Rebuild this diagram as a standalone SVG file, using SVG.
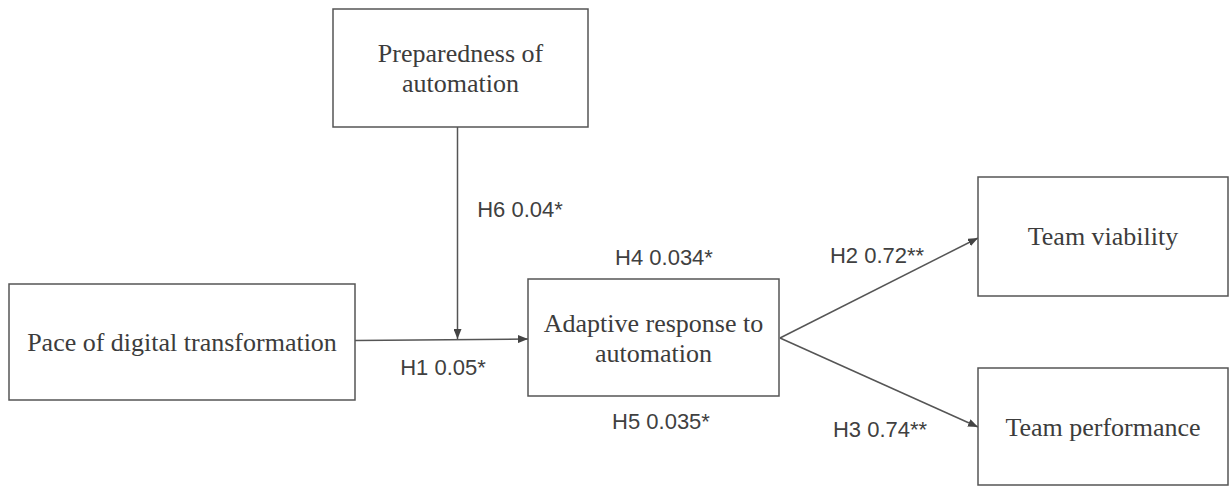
<svg xmlns="http://www.w3.org/2000/svg" width="1230" height="486" viewBox="0 0 1230 486">
  <defs>
    <marker id="arrow" viewBox="0 0 10 8" refX="10" refY="4" markerWidth="10" markerHeight="8" markerUnits="userSpaceOnUse" orient="auto">
      <path d="M0,0 L10,4 L0,8 Z" fill="#444"/>
    </marker>
  </defs>
  <style>
    .box { fill: #ffffff; stroke: #555555; stroke-width: 1.5; }
    .label { font-family: "Liberation Serif", "Times New Roman", serif; font-size: 26px; fill: #3c3c3c; text-anchor: middle; }
    .edge { stroke: #555555; stroke-width: 1.5; fill: none; marker-end: url(#arrow); }
    .coef { font-family: "Liberation Sans", Arial, sans-serif; font-size: 22px; fill: #404040; text-anchor: middle; }
  </style>
  <rect width="1230" height="486" fill="#ffffff"/>

  <g id="connectors">
    <line class="edge" x1="457.5" y1="127" x2="457.5" y2="339"/>
    <line class="edge" x1="355" y1="340.5" x2="528" y2="339"/>
    <line class="edge" x1="780" y1="338" x2="978" y2="238"/>
    <line class="edge" x1="780" y1="338" x2="978" y2="427"/>
    <text class="coef" x="520" y="217">H6 0.04*</text>
    <text class="coef" x="443" y="375">H1 0.05*</text>
    <text class="coef" x="664" y="265">H4 0.034*</text>
    <text class="coef" x="661" y="429">H5 0.035*</text>
    <text class="coef" x="877" y="263">H2 0.72**</text>
    <text class="coef" x="880" y="437">H3 0.74**</text>
  </g>

  <g id="preparedness">
    <rect class="box" x="333" y="9" width="255" height="118"/>
    <text class="label" x="460.5" y="62">Preparedness of</text>
    <text class="label" x="460.5" y="92">automation</text>
  </g>

  <g id="pace">
    <rect class="box" x="9" y="284" width="346" height="116"/>
    <text class="label" x="182" y="351">Pace of digital transformation</text>
  </g>

  <g id="adaptive">
    <rect class="box" x="528" y="279" width="251" height="117"/>
    <text class="label" x="653.5" y="332">Adaptive response to</text>
    <text class="label" x="653.5" y="362">automation</text>
  </g>

  <g id="viability">
    <rect class="box" x="978" y="177" width="250" height="119"/>
    <text class="label" x="1103" y="245">Team viability</text>
  </g>

  <g id="performance">
    <rect class="box" x="978" y="368" width="250" height="117"/>
    <text class="label" x="1103" y="436">Team performance</text>
  </g>
</svg>
